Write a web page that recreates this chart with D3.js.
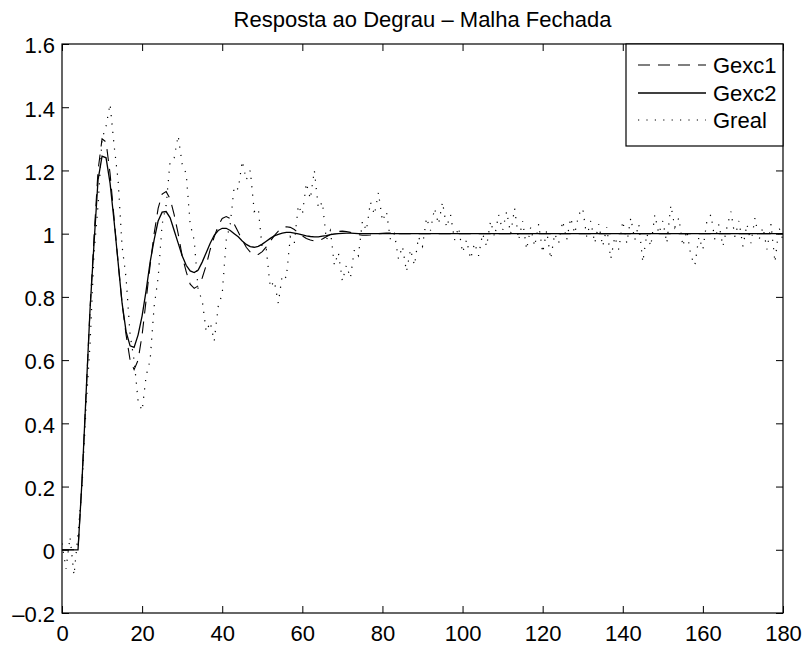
<!DOCTYPE html>
<html>
<head>
<meta charset="utf-8">
<script src="https://cdn.jsdelivr.net/npm/d3@7"></script>
<style>
  html, body { margin: 0; padding: 0; background: #fff; }
  svg { display: block; font-family: "Liberation Sans", Arial, Helvetica, sans-serif; }
</style>
</head>
<body>
<svg id="chart" width="806" height="648"></svg>
<script>
// Closed-loop step responses, one sample per second (t = index)
const gexc1 = [
  0, 0, 0, 0, 0, 0.22, 0.49, 0.76, 0.99, 1.20,
  1.30, 1.29, 1.19, 1.05, 0.91, 0.78, 0.68, 0.60, 0.57, 0.60,
  0.68, 0.79, 0.90, 1.00, 1.08, 1.125, 1.133, 1.11, 1.06, 1.00,
  0.93, 0.88, 0.84, 0.827, 0.835, 0.86, 0.90, 0.95, 0.99, 1.025,
  1.048, 1.054, 1.048, 1.03, 1.005, 0.98, 0.957, 0.942, 0.934, 0.934,
  0.943, 0.958, 0.976, 0.994, 1.008, 1.018, 1.022, 1.02, 1.013, 1.003,
  0.993, 0.985, 0.98, 0.977, 0.978, 0.983, 0.99, 0.997, 1.003, 1.007,
  1.008, 1.007, 1.004, 1.0, 0.997, 0.995, 0.995, 0.996, 0.998, 1.0,
  1.001, 1.002, 1.002, 1.001, 1, 1, 1, 1, 1, 1,
  1, 1, 1, 1, 1, 1, 1, 1, 1, 1,
  1, 1, 1, 1, 1, 1, 1, 1, 1, 1,
  1, 1, 1, 1, 1, 1, 1, 1, 1, 1,
  1, 1, 1, 1, 1, 1, 1, 1, 1, 1,
  1, 1, 1, 1, 1, 1, 1, 1, 1, 1,
  1, 1, 1, 1, 1, 1, 1, 1, 1, 1,
  1, 1, 1, 1, 1, 1, 1, 1, 1, 1,
  1, 1, 1, 1, 1, 1, 1, 1, 1, 1,
  1, 1, 1, 1, 1, 1, 1, 1, 1, 1,
  1
];

const gexc2 = [
  0, 0, 0, 0, 0, 0.22, 0.49, 0.76, 0.97, 1.17,
  1.245, 1.24, 1.16, 1.04, 0.91, 0.78, 0.69, 0.645, 0.64, 0.68,
  0.74, 0.82, 0.91, 0.98, 1.04, 1.068, 1.07, 1.05, 1.01, 0.97,
  0.93, 0.90, 0.882, 0.877, 0.885, 0.91, 0.94, 0.97, 0.995, 1.01,
  1.017, 1.017, 1.01, 1.0, 0.99, 0.977, 0.966, 0.959, 0.957, 0.96,
  0.967, 0.976, 0.985, 0.993, 0.998, 1.002, 1.004, 1.004, 1.002, 0.999,
  0.996, 0.993, 0.991, 0.99, 0.99, 0.992, 0.994, 0.997, 0.999, 1.0,
  1.001, 1.002, 1.002, 1.001, 1.0, 1, 1, 1, 1, 1,
  1, 1, 1, 1, 1, 1, 1, 1, 1, 1,
  1, 1, 1, 1, 1, 1, 1, 1, 1, 1,
  1, 1, 1, 1, 1, 1, 1, 1, 1, 1,
  1, 1, 1, 1, 1, 1, 1, 1, 1, 1,
  1, 1, 1, 1, 1, 1, 1, 1, 1, 1,
  1, 1, 1, 1, 1, 1, 1, 1, 1, 1,
  1, 1, 1, 1, 1, 1, 1, 1, 1, 1,
  1, 1, 1, 1, 1, 1, 1, 1, 1, 1,
  1, 1, 1, 1, 1, 1, 1, 1, 1, 1,
  1, 1, 1, 1, 1, 1, 1, 1, 1, 1,
  1
];

// Measured plant response (noisy)
const greal = [
  0.02, -0.06, 0.04, -0.08, 0.05, 0.20, 0.45, 0.65, 0.94, 1.09,
  1.30, 1.34, 1.41, 1.28, 1.17, 0.96, 0.86, 0.68, 0.60, 0.47,
  0.44, 0.55, 0.60, 0.77, 0.86, 1.03, 1.09, 1.23, 1.24, 1.31,
  1.22, 1.19, 1.03, 0.98, 0.82, 0.79, 0.69, 0.72, 0.66, 0.77,
  0.81, 0.98, 1.03, 1.15, 1.14, 1.23, 1.17, 1.20, 1.07, 1.08,
  0.95, 0.95, 0.83, 0.85, 0.78, 0.87, 0.86, 0.99, 0.97, 1.09,
  1.06, 1.16, 1.11, 1.20, 1.08, 1.10, 0.98, 1.01, 0.90, 0.94,
  0.85, 0.90, 0.86, 0.95, 0.93, 1.04, 1.01, 1.10, 1.06, 1.13,
  1.04, 1.07, 0.98, 1.00, 0.92, 0.96, 0.88, 0.95, 0.90, 0.99,
  0.96, 1.05, 1.01, 1.08, 1.03, 1.10, 1.02, 1.06, 0.98, 1.02,
  0.94, 0.98, 0.92, 0.97, 0.93, 1.00, 0.96, 1.04, 0.99, 1.06,
  1.01, 1.07, 1.00, 1.08, 0.98, 1.04, 0.95, 1.02, 0.96, 1.03,
  0.94, 1.01, 0.92, 1.00, 0.97, 1.04, 0.98, 1.05, 1.00, 1.06,
  1.08, 0.99, 1.04, 0.97, 1.03, 0.96, 1.02, 0.92, 0.99, 0.95,
  1.04, 0.97, 1.05, 0.98, 1.03, 0.91, 1.00, 0.96, 1.06, 1.00,
  1.04, 0.97, 1.09, 1.02, 1.05, 0.96, 1.01, 0.93, 0.90, 0.99,
  0.95, 1.04, 1.06, 0.98, 1.03, 0.96, 1.02, 1.07, 0.99, 1.04,
  0.96, 1.03, 0.97, 1.05, 0.98, 1.02, 0.95, 1.03, 0.91, 1.02,
  0.98
];

const xTicks = [0, 20, 40, 60, 80, 100, 120, 140, 160, 180];
const yTicks = [-0.2, 0, 0.2, 0.4, 0.6, 0.8, 1, 1.2, 1.4, 1.6];
const yTickLabels = ["\u20130.2", "0", "0.2", "0.4", "0.6", "0.8", "1", "1.2", "1.4", "1.6"];
const seriesNames = ["Gexc1", "Gexc2", "Greal"];
const titleText = "Resposta ao Degrau \u2013 Malha Fechada";

const W = 806, H = 648;
const m = { left: 62, right: 783, top: 44, bottom: 613 };
const FONT = 22;
const TICK = 7;

const svg = d3.select("#chart");
svg.append("rect").attr("width", W).attr("height", H).attr("fill", "#fff");

const x = d3.scaleLinear().domain([0, 180]).range([m.left, m.right]);
const y = d3.scaleLinear().domain([-0.2, 1.6]).range([m.bottom, m.top]);

// plot-area clip
svg.append("defs").append("clipPath").attr("id", "plotClip")
  .append("rect")
  .attr("x", m.left).attr("y", m.top)
  .attr("width", m.right - m.left).attr("height", m.bottom - m.top);

const line = d3.line().x((d, i) => x(i)).y(d => y(d));

const styles = [
  { data: gexc1, width: 1.1, dash: "12,8" },
  { data: gexc2, width: 1.3, dash: null },
  { data: greal, width: 1.2, dash: "1.2,7.2" }
];

const plot = svg.append("g").attr("clip-path", "url(#plotClip)");
styles.forEach(s => {
  plot.append("path")
    .datum(s.data)
    .attr("d", line)
    .attr("fill", "none")
    .attr("stroke", "#000")
    .attr("stroke-width", s.width)
    .attr("stroke-dasharray", s.dash);
});

// axes with inward ticks on all four sides
function styleAxis(g) {
  g.select(".domain").remove();
  g.selectAll(".tick line").attr("stroke", "#000").attr("stroke-width", 1);
}

const xAxisB = svg.append("g")
  .attr("transform", `translate(0,${m.bottom})`)
  .call(d3.axisBottom(x).tickValues(xTicks).tickSize(-TICK).tickFormat(d3.format("d")))
  .call(styleAxis);
xAxisB.selectAll(".tick text")
  .attr("y", 28).attr("dy", null)
  .attr("font-size", FONT).attr("fill", "#000")
  .attr("font-family", "Liberation Sans, Arial, sans-serif");

svg.append("g")
  .attr("transform", `translate(0,${m.top})`)
  .call(d3.axisTop(x).tickValues(xTicks).tickSize(-TICK).tickFormat(""))
  .call(styleAxis);

const yAxisL = svg.append("g")
  .attr("transform", `translate(${m.left},0)`)
  .call(d3.axisLeft(y).tickValues(yTicks).tickSize(-TICK)
    .tickFormat((d, i) => yTickLabels[i]))
  .call(styleAxis);
yAxisL.selectAll(".tick text")
  .attr("x", -7).attr("dy", "0.40em")
  .attr("font-size", FONT).attr("fill", "#000")
  .attr("font-family", "Liberation Sans, Arial, sans-serif");

svg.append("g")
  .attr("transform", `translate(${m.right},0)`)
  .call(d3.axisRight(y).tickValues(yTicks).tickSize(-TICK).tickFormat(""))
  .call(styleAxis);

// frame
svg.append("rect")
  .attr("x", m.left).attr("y", m.top)
  .attr("width", m.right - m.left).attr("height", m.bottom - m.top)
  .attr("fill", "none").attr("stroke", "#000").attr("stroke-width", 1.2);

// title
svg.append("text")
  .attr("x", (m.left + m.right) / 2).attr("y", 27)
  .attr("text-anchor", "middle")
  .attr("font-size", FONT).attr("fill", "#000")
  .text(titleText);

// legend
const lg = { x: 626, y: 44, w: 157, h: 102 };
const legend = svg.append("g");
legend.append("rect")
  .attr("x", lg.x).attr("y", lg.y).attr("width", lg.w).attr("height", lg.h)
  .attr("fill", "#fff").attr("stroke", "#000").attr("stroke-width", 1.2);
const rowY = [65, 93, 120];
styles.forEach((s, i) => {
  legend.append("line")
    .attr("x1", 638).attr("x2", 706)
    .attr("y1", rowY[i]).attr("y2", rowY[i])
    .attr("stroke", "#000").attr("stroke-width", s.width)
    .attr("stroke-dasharray", s.dash);
  legend.append("text")
    .attr("x", 713).attr("y", rowY[i]).attr("dy", "0.36em")
    .attr("font-size", FONT).attr("fill", "#000")
    .text(seriesNames[i]);
});
</script>
</body>
</html>
